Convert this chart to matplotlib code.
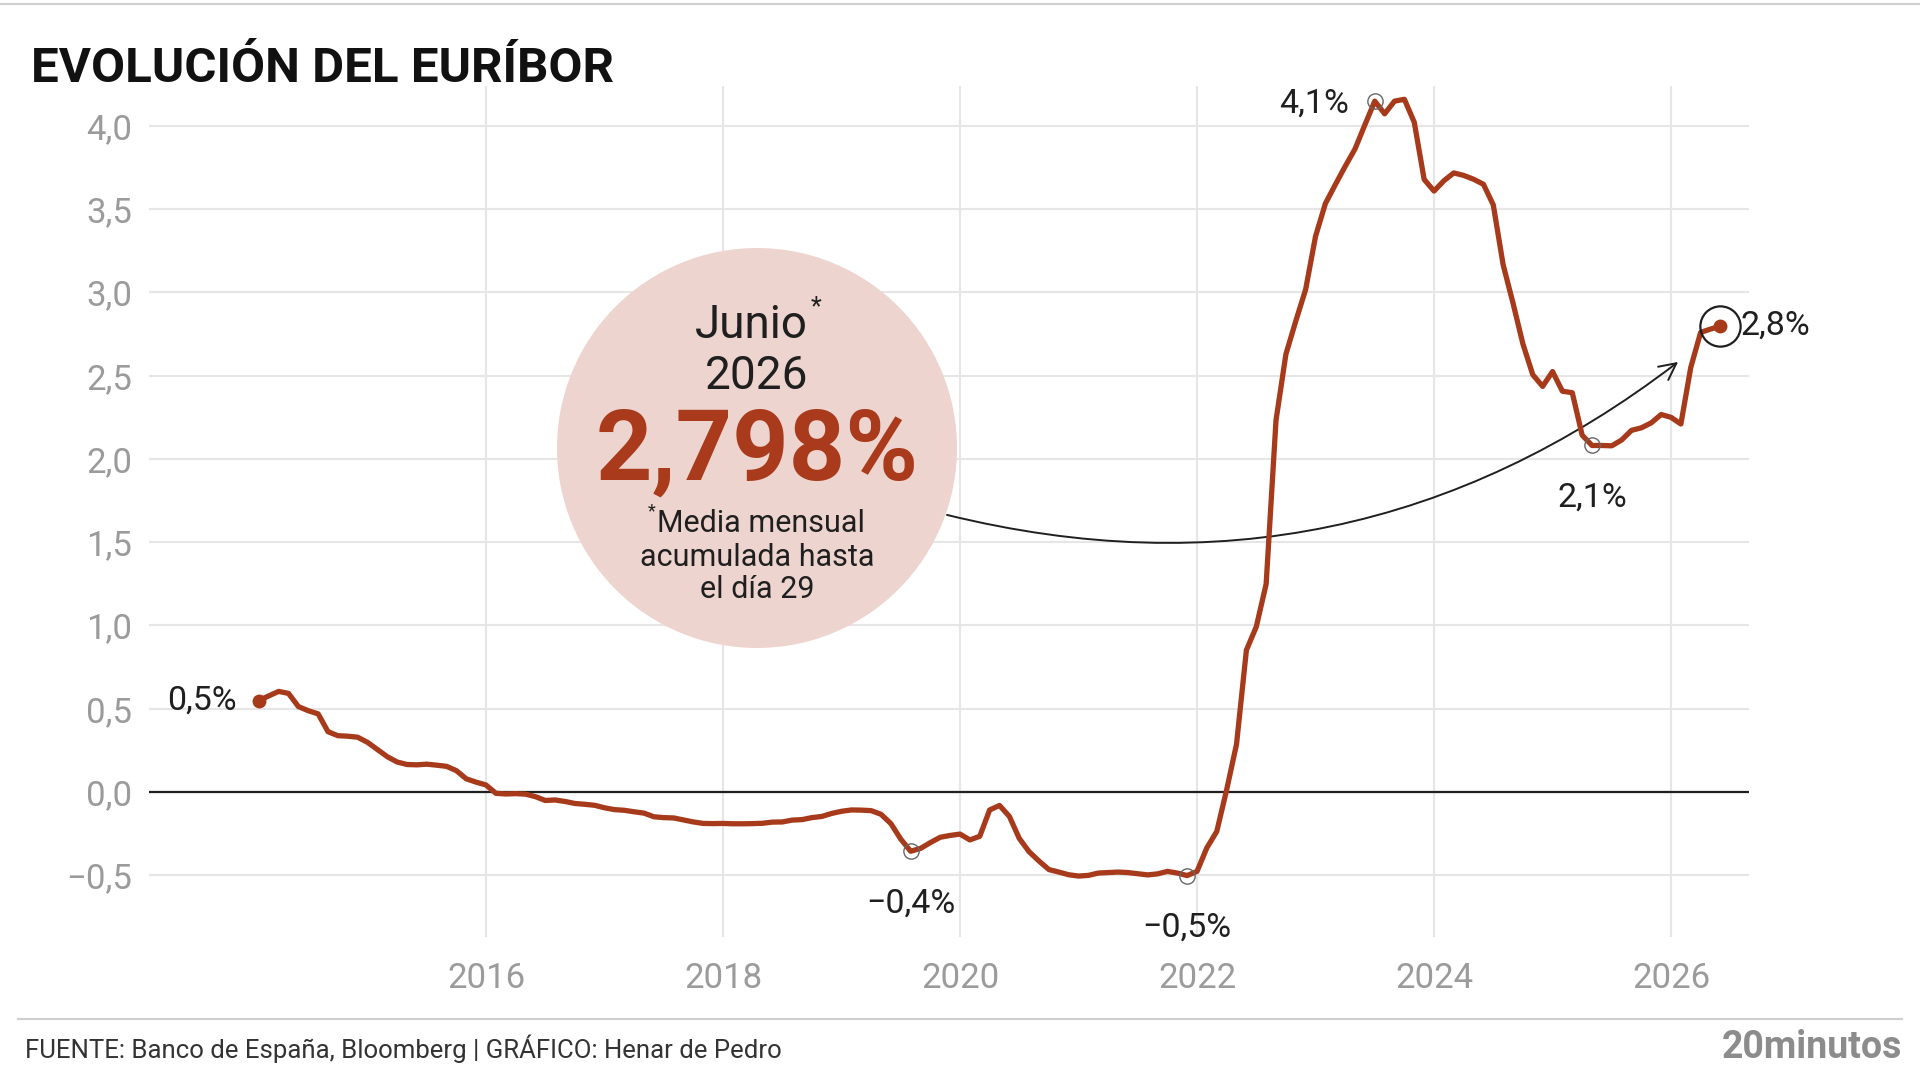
import numpy as np
import matplotlib
matplotlib.use("Agg")
import matplotlib.pyplot as plt
from matplotlib.patches import Ellipse, FancyArrowPatch
from matplotlib.lines import Line2D

plt.rcParams['font.family'] = ['Roboto', 'DejaVu Sans']

# ---------------- data (monthly Euribor 12M, %) ----------------
start_year, start_month = 2014, 2
euribor_2014 = [0.549, 0.577, 0.604, 0.592, 0.513, 0.488, 0.469, 0.362, 0.338, 0.335, 0.329]
euribor_2015 = [0.298, 0.255, 0.212, 0.180, 0.165, 0.163, 0.167, 0.161, 0.154, 0.128, 0.079, 0.059]
euribor_2016 = [0.042, -0.008, -0.012, -0.010, -0.013, -0.028, -0.051, -0.048, -0.057, -0.069, -0.074, -0.080]
euribor_2017 = [-0.095, -0.106, -0.110, -0.119, -0.127, -0.149, -0.154, -0.156, -0.168, -0.180, -0.189, -0.190]
euribor_2018 = [-0.189, -0.191, -0.191, -0.190, -0.188, -0.181, -0.180, -0.169, -0.166, -0.154, -0.147, -0.129]
euribor_2019 = [-0.116, -0.108, -0.109, -0.112, -0.134, -0.190, -0.283, -0.356, -0.339, -0.304, -0.272, -0.261]
euribor_2020 = [-0.253, -0.288, -0.266, -0.108, -0.081, -0.147, -0.279, -0.359, -0.415, -0.466, -0.481, -0.497]
euribor_2021 = [-0.505, -0.501, -0.487, -0.484, -0.481, -0.484, -0.491, -0.498, -0.492, -0.477, -0.487, -0.502]
euribor_2022 = [-0.477, -0.335, -0.237, 0.013, 0.287, 0.852, 0.992, 1.249, 2.233, 2.629, 2.828, 3.018]
euribor_2023 = [3.337, 3.534, 3.647, 3.757, 3.862, 4.007, 4.149, 4.073, 4.149, 4.160, 4.022, 3.679]
euribor_2024 = [3.609, 3.671, 3.718, 3.703, 3.680, 3.650, 3.526, 3.166, 2.936, 2.691, 2.506, 2.436]
euribor_2025 = [2.525, 2.407, 2.398, 2.143, 2.081, 2.081, 2.079, 2.114, 2.172, 2.187, 2.217, 2.267]
euribor_2026 = [2.250, 2.210, 2.550, 2.760, 2.780, 2.798]

values = (euribor_2014 + euribor_2015 + euribor_2016 + euribor_2017 + euribor_2018 +
          euribor_2019 + euribor_2020 + euribor_2021 + euribor_2022 + euribor_2023 +
          euribor_2024 + euribor_2025 + euribor_2026)
dates = [start_year + (start_month - 1 + i) / 12 for i in range(len(values))]

xticks = [2016, 2018, 2020, 2022, 2024, 2026]
xtick_labels = ['2016', '2018', '2020', '2022', '2024', '2026']
yticks = [-0.5, 0.0, 0.5, 1.0, 1.5, 2.0, 2.5, 3.0, 3.5, 4.0]
ytick_labels = ['−0,5', '0,0', '0,5', '1,0', '1,5', '2,0', '2,5', '3,0', '3,5', '4,0']

# highlighted points: (year, month)
marked_year = [2019, 2021, 2023, 2025]
marked_month = [8, 12, 7, 5]
marked_labels = ['−0,4%', '−0,5%', '4,1%', '2,1%']
start_label = '0,5%'
end_label = '2,8%'

bubble_lines = ['Junio', '2026', '2,798%', 'Media mensual', 'acumulada hasta', 'el día 29']

# ---------------- style ----------------
LINE = '#a63a1b'
BIG = '#a93b1c'
BUBBLE = '#eed4cf'
GRID = '#e6e6e6'
TICK = '#9b9b9b'
DARK = '#1f1f1f'

W, H = 1920, 1080
fig = plt.figure(figsize=(W / 100, H / 100), dpi=100)
fig.patch.set_facecolor('white')

def fx(px):
    return px / W

def fy(py):
    return 1 - py / H

ax = fig.add_axes([fx(149), fy(937), fx(1749) - fx(149), fy(86) - fy(937)])
ax.set_xlim(2013.156, 2026.658)
ax.set_ylim(-0.871, 4.240)
for s in ax.spines.values():
    s.set_visible(False)
ax.set_xticks(xticks)
ax.set_xticklabels(xtick_labels)
ax.set_yticks(yticks)
ax.set_yticklabels(ytick_labels)
ax.tick_params(length=0, labelsize=25, labelcolor=TICK)
ax.tick_params(axis='y', pad=12)
ax.tick_params(axis='x', pad=18)
ax.grid(True, color=GRID, lw=1.5)
ax.set_axisbelow(True)
ax.axhline(0, color=DARK, lw=1.6, zorder=1.5)

ax.plot(dates, values, color=LINE, lw=3.8, solid_joinstyle='round',
        solid_capstyle='round', zorder=3)

# start dot
ax.plot(dates[0], values[0], 'o', ms=9, color=LINE, zorder=4)
ax.annotate(start_label, (dates[0], values[0]), xytext=(-22, 0), textcoords='offset pixels',
            ha='right', va='center', fontsize=24.5, color=DARK)

# end dot
ax.plot(dates[-1], values[-1], 'o', ms=9, color=LINE, zorder=4)
ax.plot(dates[-1], values[-1], 'o', ms=29, mfc='none', mec=DARK, mew=1.6, zorder=4)
ax.annotate(end_label, (dates[-1], values[-1]), xytext=(20, 0), textcoords='offset pixels',
            ha='left', va='center', fontsize=24.5, color=DARK)

# marked points
offsets = [(0, -52, 'center'), (0, -52, 'center'), (-26, -3, 'right'), (0, -52, 'center')]
for yr, mo, lab, (ox, oy, ha) in zip(marked_year, marked_month, marked_labels, offsets):
    idx = (yr - start_year) * 12 + (mo - start_month)
    xd, yd = dates[idx], values[idx]
    ax.plot(xd, yd, 'o', ms=11, mfc='none', mec='#666666', mew=1.0, zorder=4)
    ax.annotate(lab, (xd, yd), xytext=(ox, oy), textcoords='offset pixels',
                ha=ha, va='center', fontsize=24.5, color=DARK)

# bubble
bubble = Ellipse((fx(757), fy(448)), width=400 / W, height=400 / H,
                 transform=fig.transFigure, facecolor=BUBBLE, edgecolor='none', zorder=2.5)
ax.add_patch(bubble)
bubble.set_clip_on(False)

cx = fx(757)
t1 = fig.text(fx(751), fy(325), bubble_lines[0], ha='center', va='center', fontsize=33, color=DARK)
ax.annotate('*', xy=(1.0, 0.9), xycoords=t1, xytext=(3, 0), textcoords='offset pixels',
            ha='left', va='center', fontsize=18, color=DARK)
fig.text(cx, fy(376), bubble_lines[1], ha='center', va='center', fontsize=33, color=DARK)
fig.text(cx, fy(453), bubble_lines[2], ha='center', va='center', fontsize=71,
         weight='bold', color=BIG)
t4 = fig.text(fx(761), fy(524), bubble_lines[3], ha='center', va='center', fontsize=22, color=DARK)
ax.annotate('*', xy=(0.0, 0.95), xycoords=t4, xytext=(-1, 0), textcoords='offset pixels',
            ha='right', va='center', fontsize=13, color=DARK)
fig.text(cx, fy(557), bubble_lines[4], ha='center', va='center', fontsize=22, color=DARK)
fig.text(cx, fy(589), bubble_lines[5], ha='center', va='center', fontsize=22, color=DARK)

# curved arrow from bubble to last value
arrow = FancyArrowPatch(posA=(2019.89, 1.664), posB=(2026.06, 2.583),
                        connectionstyle='arc3,rad=0.24',
                        arrowstyle='->,head_length=0.6,head_width=0.3',
                        mutation_scale=20, color=DARK, lw=1.4,
                        shrinkA=0, shrinkB=0, zorder=2.4)
ax.add_patch(arrow)

# title, rules and footer
fig.text(fx(31), fy(82), 'EVOLUCIÓN DEL EURÍBOR', ha='left', va='baseline',
         fontsize=35.5, weight='bold', color='#111111')
fig.add_artist(Line2D([0, 1], [fy(4), fy(4)], transform=fig.transFigure, color='#cfcfcf', lw=1.5))
fig.add_artist(Line2D([fx(18), fx(1902)], [fy(1019), fy(1019)], transform=fig.transFigure,
                      color='#cfcfcf', lw=1.5))
fig.text(fx(25), fy(1049), 'FUENTE: Banco de España, Bloomberg | GRÁFICO: Henar de Pedro',
         ha='left', va='center', fontsize=18.5, color='#333333')
fig.text(fx(1902), fy(1048), '20minutos', ha='right', va='center', fontsize=27,
         weight='bold', color='#8c8c8c')

fig.savefig('out.png', dpi=100, facecolor='white')
